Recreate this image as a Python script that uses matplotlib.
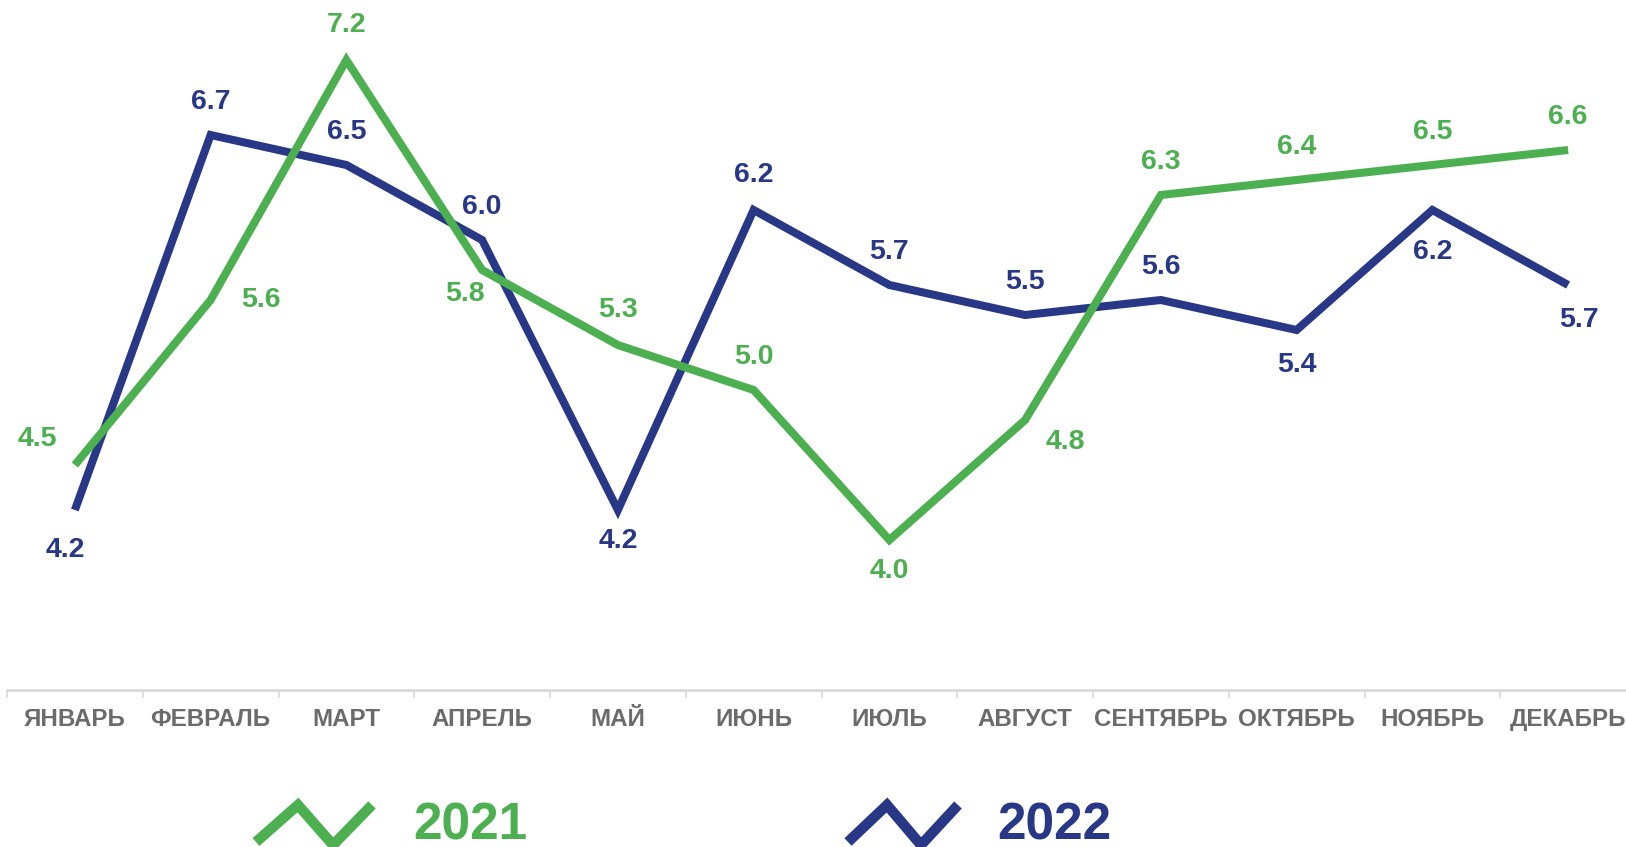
import matplotlib.pyplot as plt
from matplotlib.lines import Line2D
import numpy as np

plt.rcParams['font.family'] = ['Liberation Sans', 'DejaVu Sans']

months = ["ЯНВАРЬ", "ФЕВРАЛЬ", "МАРТ", "АПРЕЛЬ", "МАЙ", "ИЮНЬ",
          "ИЮЛЬ", "АВГУСТ", "СЕНТЯБРЬ", "ОКТЯБРЬ", "НОЯБРЬ", "ДЕКАБРЬ"]
values_2021 = [4.5, 5.6, 7.2, 5.8, 5.3, 5.0, 4.0, 4.8, 6.3, 6.4, 6.5, 6.6]
values_2022 = [4.2, 6.7, 6.5, 6.0, 4.2, 6.2, 5.7, 5.5, 5.6, 5.4, 6.2, 5.7]

green = "#4caf50"
blue = "#283886"

# label offsets in points (dx, dy) from each point
off_2021 = [(-27, 19), (36, 0), (0, 25), (-12, -17), (0, 25), (0, 24),
            (0, -22), (29, -16), (0, 24), (0, 24), (0, 24), (0, 24)]
off_2022 = [(-7, -29), (0, 24), (0, 24), (0, 24), (0, -22), (0, 25),
            (0, 24), (0, 24), (0, 24), (0, -25), (0, -30), (8, -25)]

W, H = 1626, 847
fig = plt.figure(figsize=(W / 100, H / 100), dpi=100)
ax = fig.add_axes([7 / W, 1 - 690 / H, 1629 / W, 690 / H])
x = np.arange(len(months))

ax.plot(x, values_2022, color=blue, lw=5.8, solid_joinstyle='miter', solid_capstyle='butt', zorder=2)
ax.plot(x, values_2021, color=green, lw=5.8, solid_joinstyle='miter', solid_capstyle='butt', zorder=3)

for xi, v, o in zip(x, values_2022, off_2022):
    ax.annotate(f"{v:.1f}", (xi, v), xytext=o, textcoords='offset points',
                ha='center', va='center', fontsize=20.5, fontweight='bold', color=blue)
for xi, v, o in zip(x, values_2021, off_2021):
    ax.annotate(f"{v:.1f}", (xi, v), xytext=o, textcoords='offset points',
                ha='center', va='center', fontsize=20.5, fontweight='bold', color=green)

ax.set_xlim(-0.5, 11.5)
ax.set_ylim(3.0, 7.6)
ax.set_yticks([])
ax.set_xticks(x)
ax.set_xticklabels(months, fontsize=17.4, fontweight='bold', color="#6b6b6b")
ax.set_xticks(np.arange(-0.5, 12, 1), minor=True)
ax.tick_params(axis='x', which='major', length=0, pad=13)
ax.tick_params(axis='x', which='minor', length=6, width=1.2, color="#d9d9d9")
for s in ['left', 'right', 'top']:
    ax.spines[s].set_visible(False)
ax.spines['bottom'].set_color("#d9d9d9")
ax.spines['bottom'].set_linewidth(2)
ax.patch.set_alpha(0)

# legend drawn at the bottom, in figure pixels
def fx(px):
    return px / W

def fy(py):
    return 1 - py / H

legend_items = [("2021", green, [256, 298, 333, 372], 413),
                ("2022", blue, [848, 887, 921, 958], 997)]
for label, col, xs, tx in legend_items:
    ys = [842, 805, 845, 805]
    fig.add_artist(Line2D([fx(p) for p in xs], [fy(p) for p in ys], color=col, lw=7.5,
                          solid_joinstyle='miter', solid_capstyle='butt'))
    fig.text(fx(tx), fy(839), label, color=col, fontsize=37, fontweight='bold',
             ha='left', va='baseline')

fig.savefig("out.png", dpi=100)
